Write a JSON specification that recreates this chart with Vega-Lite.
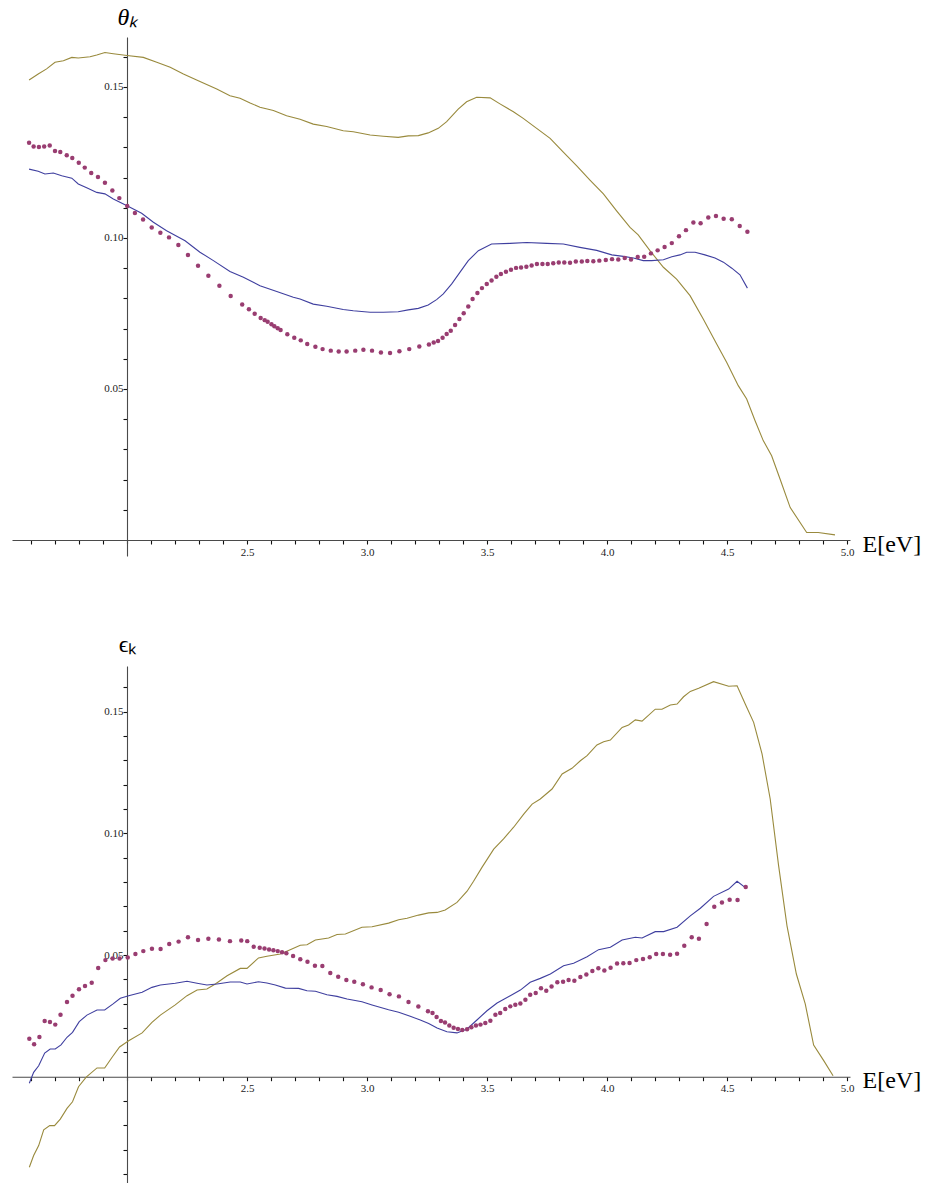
{
"$schema": "https://vega.github.io/schema/vega-lite/v6.json",
"padding": {"left": 12, "top": 5, "right": 5, "bottom": 0},
"bounds": "flush",
"spacing": 110,
"config": {
  "view": {"stroke": null},
  "axis": {"grid": false, "ticks": true, "domainColor": "#4a4a4a", "domainWidth": 1.1, "tickColor": "#111111", "tickWidth": 1.1, "labelFont": "Liberation Serif", "labelFontSize": 11, "labelColor": "#222222", "labelOverlap": false, "labelFlush": false, "titleFont": "Liberation Serif", "titleFontWeight": "normal", "titleColor": "#000000"},
  "line": {"strokeWidth": 1.1},
  "point": {"filled": true, "size": 20, "opacity": 1}
},
"datasets": {
"theta": [
{"s":"s3","E":1.592,"v":0.1523},{"s":"s3","E":1.630,"v":0.1543},{"s":"s3","E":1.665,"v":0.1560},{"s":"s3","E":1.700,"v":0.1582},{"s":"s3","E":1.735,"v":0.1587},{"s":"s3","E":1.770,"v":0.1598},{"s":"s3","E":1.797,"v":0.1596},{"s":"s3","E":1.846,"v":0.1600},{"s":"s3","E":1.874,"v":0.1606},{"s":"s3","E":1.908,"v":0.1614},{"s":"s3","E":1.943,"v":0.1610},{"s":"s3","E":2.000,"v":0.1604},{"s":"s3","E":2.068,"v":0.1598},{"s":"s3","E":2.124,"v":0.1582},{"s":"s3","E":2.180,"v":0.1565},{"s":"s3","E":2.235,"v":0.1543},{"s":"s3","E":2.304,"v":0.1518},{"s":"s3","E":2.374,"v":0.1493},{"s":"s3","E":2.429,"v":0.1471},{"s":"s3","E":2.471,"v":0.1463},{"s":"s3","E":2.513,"v":0.1447},{"s":"s3","E":2.554,"v":0.1433},{"s":"s3","E":2.610,"v":0.1422},{"s":"s3","E":2.665,"v":0.1405},{"s":"s3","E":2.721,"v":0.1393},{"s":"s3","E":2.776,"v":0.1377},{"s":"s3","E":2.832,"v":0.1369},{"s":"s3","E":2.901,"v":0.1355},{"s":"s3","E":2.943,"v":0.1352},{"s":"s3","E":3.013,"v":0.1341},{"s":"s3","E":3.068,"v":0.1337},{"s":"s3","E":3.130,"v":0.1333},{"s":"s3","E":3.172,"v":0.1338},{"s":"s3","E":3.214,"v":0.1339},{"s":"s3","E":3.255,"v":0.1348},{"s":"s3","E":3.297,"v":0.1363},{"s":"s3","E":3.332,"v":0.1385},{"s":"s3","E":3.380,"v":0.1427},{"s":"s3","E":3.415,"v":0.1451},{"s":"s3","E":3.457,"v":0.1466},{"s":"s3","E":3.513,"v":0.1464},{"s":"s3","E":3.554,"v":0.1444},{"s":"s3","E":3.610,"v":0.1418},{"s":"s3","E":3.651,"v":0.1396},{"s":"s3","E":3.707,"v":0.1363},{"s":"s3","E":3.763,"v":0.1330},{"s":"s3","E":3.818,"v":0.1284},{"s":"s3","E":3.874,"v":0.1239},{"s":"s3","E":3.929,"v":0.1192},{"s":"s3","E":3.985,"v":0.1146},{"s":"s3","E":4.040,"v":0.1090},{"s":"s3","E":4.096,"v":0.1035},{"s":"s3","E":4.130,"v":0.1010},{"s":"s3","E":4.179,"v":0.0958},{"s":"s3","E":4.235,"v":0.0903},{"s":"s3","E":4.290,"v":0.0864},{"s":"s3","E":4.346,"v":0.0809},{"s":"s3","E":4.401,"v":0.0732},{"s":"s3","E":4.457,"v":0.0649},{"s":"s3","E":4.499,"v":0.0588},{"s":"s3","E":4.547,"v":0.0511},{"s":"s3","E":4.582,"v":0.0467},{"s":"s3","E":4.617,"v":0.0395},{"s":"s3","E":4.651,"v":0.0329},{"s":"s3","E":4.686,"v":0.0279},{"s":"s3","E":4.721,"v":0.0202},{"s":"s3","E":4.763,"v":0.0108},{"s":"s3","E":4.832,"v":0.0025},{"s":"s3","E":4.880,"v":0.0025},{"s":"s3","E":4.950,"v":0.0017},
{"s":"s1","E":1.592,"v":0.1228},{"s":"s1","E":1.630,"v":0.1221},{"s":"s1","E":1.658,"v":0.1212},{"s":"s1","E":1.693,"v":0.1215},{"s":"s1","E":1.728,"v":0.1206},{"s":"s1","E":1.770,"v":0.1198},{"s":"s1","E":1.797,"v":0.1179},{"s":"s1","E":1.832,"v":0.1166},{"s":"s1","E":1.874,"v":0.1151},{"s":"s1","E":1.908,"v":0.1146},{"s":"s1","E":1.943,"v":0.1129},{"s":"s1","E":2.000,"v":0.1107},{"s":"s1","E":2.061,"v":0.1082},{"s":"s1","E":2.110,"v":0.1052},{"s":"s1","E":2.165,"v":0.1024},{"s":"s1","E":2.242,"v":0.0991},{"s":"s1","E":2.304,"v":0.0953},{"s":"s1","E":2.360,"v":0.0925},{"s":"s1","E":2.429,"v":0.0889},{"s":"s1","E":2.485,"v":0.0870},{"s":"s1","E":2.554,"v":0.0842},{"s":"s1","E":2.624,"v":0.0823},{"s":"s1","E":2.693,"v":0.0804},{"s":"s1","E":2.721,"v":0.0798},{"s":"s1","E":2.776,"v":0.0781},{"s":"s1","E":2.832,"v":0.0774},{"s":"s1","E":2.901,"v":0.0763},{"s":"s1","E":2.943,"v":0.0759},{"s":"s1","E":3.013,"v":0.0754},{"s":"s1","E":3.068,"v":0.0754},{"s":"s1","E":3.130,"v":0.0756},{"s":"s1","E":3.172,"v":0.0762},{"s":"s1","E":3.214,"v":0.0767},{"s":"s1","E":3.255,"v":0.0778},{"s":"s1","E":3.290,"v":0.0796},{"s":"s1","E":3.318,"v":0.0815},{"s":"s1","E":3.353,"v":0.0848},{"s":"s1","E":3.387,"v":0.0886},{"s":"s1","E":3.422,"v":0.0925},{"s":"s1","E":3.464,"v":0.0958},{"s":"s1","E":3.519,"v":0.0980},{"s":"s1","E":3.596,"v":0.0982},{"s":"s1","E":3.665,"v":0.0985},{"s":"s1","E":3.749,"v":0.0982},{"s":"s1","E":3.818,"v":0.0980},{"s":"s1","E":3.887,"v":0.0969},{"s":"s1","E":3.957,"v":0.0959},{"s":"s1","E":4.020,"v":0.0944},{"s":"s1","E":4.068,"v":0.0939},{"s":"s1","E":4.110,"v":0.0934},{"s":"s1","E":4.151,"v":0.0925},{"s":"s1","E":4.186,"v":0.0925},{"s":"s1","E":4.235,"v":0.0928},{"s":"s1","E":4.270,"v":0.0938},{"s":"s1","E":4.304,"v":0.0944},{"s":"s1","E":4.332,"v":0.0953},{"s":"s1","E":4.367,"v":0.0953},{"s":"s1","E":4.408,"v":0.0944},{"s":"s1","E":4.450,"v":0.0934},{"s":"s1","E":4.485,"v":0.0920},{"s":"s1","E":4.520,"v":0.0900},{"s":"s1","E":4.554,"v":0.0878},{"s":"s1","E":4.585,"v":0.0834},
{"s":"s2","E":1.592,"v":0.1315},{"s":"s2","E":1.611,"v":0.1303},{"s":"s2","E":1.633,"v":0.1301},{"s":"s2","E":1.655,"v":0.1303},{"s":"s2","E":1.678,"v":0.1306},{"s":"s2","E":1.700,"v":0.1288},{"s":"s2","E":1.722,"v":0.1285},{"s":"s2","E":1.749,"v":0.1274},{"s":"s2","E":1.772,"v":0.1265},{"s":"s2","E":1.799,"v":0.1249},{"s":"s2","E":1.824,"v":0.1233},{"s":"s2","E":1.851,"v":0.1215},{"s":"s2","E":1.879,"v":0.1202},{"s":"s2","E":1.908,"v":0.1183},{"s":"s2","E":1.939,"v":0.1157},{"s":"s2","E":1.968,"v":0.1132},{"s":"s2","E":2.001,"v":0.1106},{"s":"s2","E":2.033,"v":0.1083},{"s":"s2","E":2.067,"v":0.1061},{"s":"s2","E":2.103,"v":0.1035},{"s":"s2","E":2.139,"v":0.1017},{"s":"s2","E":2.175,"v":0.1002},{"s":"s2","E":2.214,"v":0.0977},{"s":"s2","E":2.254,"v":0.0944},{"s":"s2","E":2.296,"v":0.0908},{"s":"s2","E":2.339,"v":0.0875},{"s":"s2","E":2.385,"v":0.0842},{"s":"s2","E":2.432,"v":0.0808},{"s":"s2","E":2.480,"v":0.0780},{"s":"s2","E":2.508,"v":0.0764},{"s":"s2","E":2.532,"v":0.0749},{"s":"s2","E":2.557,"v":0.0735},{"s":"s2","E":2.574,"v":0.0728},{"s":"s2","E":2.586,"v":0.0723},{"s":"s2","E":2.602,"v":0.0714},{"s":"s2","E":2.614,"v":0.0708},{"s":"s2","E":2.628,"v":0.0701},{"s":"s2","E":2.640,"v":0.0695},{"s":"s2","E":2.668,"v":0.0681},{"s":"s2","E":2.697,"v":0.0670},{"s":"s2","E":2.724,"v":0.0661},{"s":"s2","E":2.751,"v":0.0649},{"s":"s2","E":2.785,"v":0.0640},{"s":"s2","E":2.815,"v":0.0632},{"s":"s2","E":2.849,"v":0.0627},{"s":"s2","E":2.882,"v":0.0624},{"s":"s2","E":2.915,"v":0.0624},{"s":"s2","E":2.951,"v":0.0627},{"s":"s2","E":2.985,"v":0.0630},{"s":"s2","E":3.021,"v":0.0627},{"s":"s2","E":3.058,"v":0.0621},{"s":"s2","E":3.096,"v":0.0619},{"s":"s2","E":3.135,"v":0.0625},{"s":"s2","E":3.176,"v":0.0632},{"s":"s2","E":3.218,"v":0.0641},{"s":"s2","E":3.258,"v":0.0647},{"s":"s2","E":3.278,"v":0.0654},{"s":"s2","E":3.296,"v":0.0659},{"s":"s2","E":3.315,"v":0.0670},{"s":"s2","E":3.332,"v":0.0682},{"s":"s2","E":3.349,"v":0.0693},{"s":"s2","E":3.367,"v":0.0712},{"s":"s2","E":3.385,"v":0.0732},{"s":"s2","E":3.403,"v":0.0751},{"s":"s2","E":3.422,"v":0.0773},{"s":"s2","E":3.440,"v":0.0798},{"s":"s2","E":3.460,"v":0.0818},{"s":"s2","E":3.479,"v":0.0834},{"s":"s2","E":3.499,"v":0.0848},{"s":"s2","E":3.519,"v":0.0859},{"s":"s2","E":3.539,"v":0.0872},{"s":"s2","E":3.558,"v":0.0881},{"s":"s2","E":3.579,"v":0.0888},{"s":"s2","E":3.600,"v":0.0895},{"s":"s2","E":3.621,"v":0.0901},{"s":"s2","E":3.642,"v":0.0902},{"s":"s2","E":3.664,"v":0.0905},{"s":"s2","E":3.686,"v":0.0909},{"s":"s2","E":3.708,"v":0.0914},{"s":"s2","E":3.731,"v":0.0914},{"s":"s2","E":3.753,"v":0.0914},{"s":"s2","E":3.776,"v":0.0916},{"s":"s2","E":3.799,"v":0.0919},{"s":"s2","E":3.822,"v":0.0919},{"s":"s2","E":3.846,"v":0.0918},{"s":"s2","E":3.870,"v":0.0922},{"s":"s2","E":3.895,"v":0.0922},{"s":"s2","E":3.918,"v":0.0924},{"s":"s2","E":3.943,"v":0.0923},{"s":"s2","E":3.968,"v":0.0925},{"s":"s2","E":3.995,"v":0.0927},{"s":"s2","E":4.021,"v":0.0930},{"s":"s2","E":4.047,"v":0.0929},{"s":"s2","E":4.074,"v":0.0934},{"s":"s2","E":4.100,"v":0.0929},{"s":"s2","E":4.128,"v":0.0937},{"s":"s2","E":4.155,"v":0.0938},{"s":"s2","E":4.183,"v":0.0949},{"s":"s2","E":4.211,"v":0.0959},{"s":"s2","E":4.240,"v":0.0970},{"s":"s2","E":4.270,"v":0.0983},{"s":"s2","E":4.300,"v":0.1006},{"s":"s2","E":4.329,"v":0.1026},{"s":"s2","E":4.360,"v":0.1051},{"s":"s2","E":4.390,"v":0.1049},{"s":"s2","E":4.422,"v":0.1068},{"s":"s2","E":4.454,"v":0.1073},{"s":"s2","E":4.486,"v":0.1064},{"s":"s2","E":4.520,"v":0.1062},{"s":"s2","E":4.553,"v":0.1040},{"s":"s2","E":4.585,"v":0.1021}
],
"eps": [
{"s":"s3","E":1.593,"v":-0.0372},{"s":"s3","E":1.611,"v":-0.0324},{"s":"s3","E":1.632,"v":-0.0283},{"s":"s3","E":1.653,"v":-0.0218},{"s":"s3","E":1.678,"v":-0.0201},{"s":"s3","E":1.698,"v":-0.0201},{"s":"s3","E":1.722,"v":-0.0174},{"s":"s3","E":1.750,"v":-0.0130},{"s":"s3","E":1.773,"v":-0.0103},{"s":"s3","E":1.798,"v":-0.0041},{"s":"s3","E":1.830,"v":-0.0002},{"s":"s3","E":1.875,"v":0.0036},{"s":"s3","E":1.907,"v":0.0036},{"s":"s3","E":1.938,"v":0.0080},{"s":"s3","E":1.969,"v":0.0122},{"s":"s3","E":2.007,"v":0.0148},{"s":"s3","E":2.063,"v":0.0180},{"s":"s3","E":2.104,"v":0.0223},{"s":"s3","E":2.139,"v":0.0253},{"s":"s3","E":2.201,"v":0.0295},{"s":"s3","E":2.250,"v":0.0333},{"s":"s3","E":2.292,"v":0.0356},{"s":"s3","E":2.333,"v":0.0360},{"s":"s3","E":2.368,"v":0.0381},{"s":"s3","E":2.417,"v":0.0415},{"s":"s3","E":2.472,"v":0.0445},{"s":"s3","E":2.500,"v":0.0445},{"s":"s3","E":2.548,"v":0.0488},{"s":"s3","E":2.583,"v":0.0495},{"s":"s3","E":2.639,"v":0.0504},{"s":"s3","E":2.680,"v":0.0522},{"s":"s3","E":2.722,"v":0.0540},{"s":"s3","E":2.750,"v":0.0542},{"s":"s3","E":2.785,"v":0.0562},{"s":"s3","E":2.840,"v":0.0570},{"s":"s3","E":2.875,"v":0.0584},{"s":"s3","E":2.910,"v":0.0586},{"s":"s3","E":2.979,"v":0.0614},{"s":"s3","E":3.021,"v":0.0616},{"s":"s3","E":3.090,"v":0.0631},{"s":"s3","E":3.132,"v":0.0645},{"s":"s3","E":3.167,"v":0.0651},{"s":"s3","E":3.215,"v":0.0664},{"s":"s3","E":3.257,"v":0.0673},{"s":"s3","E":3.292,"v":0.0675},{"s":"s3","E":3.326,"v":0.0685},{"s":"s3","E":3.375,"v":0.0716},{"s":"s3","E":3.417,"v":0.0762},{"s":"s3","E":3.444,"v":0.0803},{"s":"s3","E":3.479,"v":0.0860},{"s":"s3","E":3.528,"v":0.0935},{"s":"s3","E":3.569,"v":0.0977},{"s":"s3","E":3.611,"v":0.1025},{"s":"s3","E":3.653,"v":0.1079},{"s":"s3","E":3.688,"v":0.1120},{"s":"s3","E":3.722,"v":0.1141},{"s":"s3","E":3.771,"v":0.1182},{"s":"s3","E":3.813,"v":0.1244},{"s":"s3","E":3.854,"v":0.1267},{"s":"s3","E":3.889,"v":0.1298},{"s":"s3","E":3.917,"v":0.1319},{"s":"s3","E":3.958,"v":0.1363},{"s":"s3","E":3.986,"v":0.1376},{"s":"s3","E":4.014,"v":0.1383},{"s":"s3","E":4.063,"v":0.1435},{"s":"s3","E":4.090,"v":0.1445},{"s":"s3","E":4.118,"v":0.1466},{"s":"s3","E":4.146,"v":0.1461},{"s":"s3","E":4.201,"v":0.1510},{"s":"s3","E":4.229,"v":0.1510},{"s":"s3","E":4.264,"v":0.1527},{"s":"s3","E":4.292,"v":0.1531},{"s":"s3","E":4.319,"v":0.1561},{"s":"s3","E":4.347,"v":0.1583},{"s":"s3","E":4.382,"v":0.1596},{"s":"s3","E":4.444,"v":0.1623},{"s":"s3","E":4.507,"v":0.1604},{"s":"s3","E":4.542,"v":0.1606},{"s":"s3","E":4.576,"v":0.1531},{"s":"s3","E":4.611,"v":0.1456},{"s":"s3","E":4.646,"v":0.1326},{"s":"s3","E":4.680,"v":0.1141},{"s":"s3","E":4.715,"v":0.0867},{"s":"s3","E":4.750,"v":0.0620},{"s":"s3","E":4.789,"v":0.0422},{"s":"s3","E":4.826,"v":0.0299},{"s":"s3","E":4.861,"v":0.0130},{"s":"s3","E":4.903,"v":0.0066},{"s":"s3","E":4.942,"v":0.0004},
{"s":"s1","E":1.593,"v":-0.0027},{"s":"s1","E":1.611,"v":0.0018},{"s":"s1","E":1.632,"v":0.0045},{"s":"s1","E":1.657,"v":0.0097},{"s":"s1","E":1.680,"v":0.0114},{"s":"s1","E":1.701,"v":0.0114},{"s":"s1","E":1.725,"v":0.0131},{"s":"s1","E":1.750,"v":0.0162},{"s":"s1","E":1.773,"v":0.0182},{"s":"s1","E":1.801,"v":0.0226},{"s":"s1","E":1.833,"v":0.0253},{"s":"s1","E":1.875,"v":0.0274},{"s":"s1","E":1.907,"v":0.0274},{"s":"s1","E":1.942,"v":0.0299},{"s":"s1","E":1.972,"v":0.0322},{"s":"s1","E":2.007,"v":0.0333},{"s":"s1","E":2.063,"v":0.0347},{"s":"s1","E":2.104,"v":0.0367},{"s":"s1","E":2.139,"v":0.0377},{"s":"s1","E":2.201,"v":0.0384},{"s":"s1","E":2.250,"v":0.0392},{"s":"s1","E":2.292,"v":0.0384},{"s":"s1","E":2.333,"v":0.0377},{"s":"s1","E":2.375,"v":0.0381},{"s":"s1","E":2.430,"v":0.0389},{"s":"s1","E":2.472,"v":0.0389},{"s":"s1","E":2.500,"v":0.0381},{"s":"s1","E":2.548,"v":0.0390},{"s":"s1","E":2.583,"v":0.0385},{"s":"s1","E":2.618,"v":0.0377},{"s":"s1","E":2.660,"v":0.0364},{"s":"s1","E":2.715,"v":0.0363},{"s":"s1","E":2.750,"v":0.0353},{"s":"s1","E":2.785,"v":0.0351},{"s":"s1","E":2.833,"v":0.0337},{"s":"s1","E":2.875,"v":0.0330},{"s":"s1","E":2.917,"v":0.0319},{"s":"s1","E":2.979,"v":0.0308},{"s":"s1","E":3.021,"v":0.0295},{"s":"s1","E":3.090,"v":0.0275},{"s":"s1","E":3.132,"v":0.0265},{"s":"s1","E":3.180,"v":0.0248},{"s":"s1","E":3.222,"v":0.0233},{"s":"s1","E":3.257,"v":0.0219},{"s":"s1","E":3.292,"v":0.0200},{"s":"s1","E":3.333,"v":0.0185},{"s":"s1","E":3.375,"v":0.0180},{"s":"s1","E":3.417,"v":0.0196},{"s":"s1","E":3.458,"v":0.0233},{"s":"s1","E":3.500,"v":0.0271},{"s":"s1","E":3.542,"v":0.0303},{"s":"s1","E":3.597,"v":0.0333},{"s":"s1","E":3.639,"v":0.0356},{"s":"s1","E":3.680,"v":0.0388},{"s":"s1","E":3.722,"v":0.0404},{"s":"s1","E":3.764,"v":0.0422},{"s":"s1","E":3.819,"v":0.0456},{"s":"s1","E":3.861,"v":0.0466},{"s":"s1","E":3.917,"v":0.0493},{"s":"s1","E":3.965,"v":0.0522},{"s":"s1","E":4.014,"v":0.0532},{"s":"s1","E":4.063,"v":0.0562},{"s":"s1","E":4.118,"v":0.0573},{"s":"s1","E":4.146,"v":0.0570},{"s":"s1","E":4.201,"v":0.0596},{"s":"s1","E":4.236,"v":0.0596},{"s":"s1","E":4.292,"v":0.0614},{"s":"s1","E":4.347,"v":0.0661},{"s":"s1","E":4.389,"v":0.0692},{"s":"s1","E":4.444,"v":0.0741},{"s":"s1","E":4.507,"v":0.0771},{"s":"s1","E":4.542,"v":0.0803},{"s":"s1","E":4.579,"v":0.0775},
{"s":"s2","E":1.593,"v":0.0156},{"s":"s2","E":1.613,"v":0.0133},{"s":"s2","E":1.635,"v":0.0163},{"s":"s2","E":1.657,"v":0.0229},{"s":"s2","E":1.679,"v":0.0225},{"s":"s2","E":1.701,"v":0.0214},{"s":"s2","E":1.723,"v":0.0255},{"s":"s2","E":1.750,"v":0.0307},{"s":"s2","E":1.773,"v":0.0333},{"s":"s2","E":1.800,"v":0.0359},{"s":"s2","E":1.825,"v":0.0373},{"s":"s2","E":1.853,"v":0.0386},{"s":"s2","E":1.880,"v":0.0447},{"s":"s2","E":1.910,"v":0.0479},{"s":"s2","E":1.940,"v":0.0486},{"s":"s2","E":1.969,"v":0.0486},{"s":"s2","E":2.003,"v":0.0490},{"s":"s2","E":2.035,"v":0.0504},{"s":"s2","E":2.068,"v":0.0516},{"s":"s2","E":2.104,"v":0.0526},{"s":"s2","E":2.140,"v":0.0525},{"s":"s2","E":2.176,"v":0.0545},{"s":"s2","E":2.215,"v":0.0555},{"s":"s2","E":2.254,"v":0.0573},{"s":"s2","E":2.296,"v":0.0562},{"s":"s2","E":2.339,"v":0.0567},{"s":"s2","E":2.383,"v":0.0564},{"s":"s2","E":2.429,"v":0.0557},{"s":"s2","E":2.476,"v":0.0560},{"s":"s2","E":2.501,"v":0.0557},{"s":"s2","E":2.528,"v":0.0534},{"s":"s2","E":2.553,"v":0.0530},{"s":"s2","E":2.573,"v":0.0527},{"s":"s2","E":2.592,"v":0.0523},{"s":"s2","E":2.610,"v":0.0520},{"s":"s2","E":2.628,"v":0.0516},{"s":"s2","E":2.646,"v":0.0511},{"s":"s2","E":2.664,"v":0.0507},{"s":"s2","E":2.692,"v":0.0496},{"s":"s2","E":2.722,"v":0.0483},{"s":"s2","E":2.752,"v":0.0472},{"s":"s2","E":2.783,"v":0.0456},{"s":"s2","E":2.814,"v":0.0455},{"s":"s2","E":2.847,"v":0.0426},{"s":"s2","E":2.880,"v":0.0411},{"s":"s2","E":2.914,"v":0.0397},{"s":"s2","E":2.947,"v":0.0390},{"s":"s2","E":2.983,"v":0.0380},{"s":"s2","E":3.019,"v":0.0367},{"s":"s2","E":3.057,"v":0.0356},{"s":"s2","E":3.094,"v":0.0339},{"s":"s2","E":3.133,"v":0.0330},{"s":"s2","E":3.173,"v":0.0307},{"s":"s2","E":3.214,"v":0.0288},{"s":"s2","E":3.254,"v":0.0269},{"s":"s2","E":3.273,"v":0.0262},{"s":"s2","E":3.290,"v":0.0245},{"s":"s2","E":3.308,"v":0.0229},{"s":"s2","E":3.325,"v":0.0223},{"s":"s2","E":3.343,"v":0.0210},{"s":"s2","E":3.361,"v":0.0201},{"s":"s2","E":3.379,"v":0.0196},{"s":"s2","E":3.397,"v":0.0192},{"s":"s2","E":3.417,"v":0.0195},{"s":"s2","E":3.435,"v":0.0203},{"s":"s2","E":3.454,"v":0.0210},{"s":"s2","E":3.473,"v":0.0214},{"s":"s2","E":3.493,"v":0.0221},{"s":"s2","E":3.514,"v":0.0230},{"s":"s2","E":3.535,"v":0.0255},{"s":"s2","E":3.555,"v":0.0262},{"s":"s2","E":3.576,"v":0.0278},{"s":"s2","E":3.597,"v":0.0289},{"s":"s2","E":3.618,"v":0.0296},{"s":"s2","E":3.639,"v":0.0301},{"s":"s2","E":3.660,"v":0.0316},{"s":"s2","E":3.680,"v":0.0337},{"s":"s2","E":3.703,"v":0.0344},{"s":"s2","E":3.725,"v":0.0363},{"s":"s2","E":3.747,"v":0.0353},{"s":"s2","E":3.769,"v":0.0371},{"s":"s2","E":3.793,"v":0.0388},{"s":"s2","E":3.817,"v":0.0390},{"s":"s2","E":3.840,"v":0.0397},{"s":"s2","E":3.864,"v":0.0394},{"s":"s2","E":3.889,"v":0.0410},{"s":"s2","E":3.914,"v":0.0420},{"s":"s2","E":3.939,"v":0.0434},{"s":"s2","E":3.964,"v":0.0446},{"s":"s2","E":3.989,"v":0.0436},{"s":"s2","E":4.015,"v":0.0448},{"s":"s2","E":4.042,"v":0.0465},{"s":"s2","E":4.068,"v":0.0466},{"s":"s2","E":4.094,"v":0.0467},{"s":"s2","E":4.122,"v":0.0479},{"s":"s2","E":4.150,"v":0.0484},{"s":"s2","E":4.178,"v":0.0491},{"s":"s2","E":4.205,"v":0.0504},{"s":"s2","E":4.233,"v":0.0504},{"s":"s2","E":4.263,"v":0.0501},{"s":"s2","E":4.292,"v":0.0505},{"s":"s2","E":4.322,"v":0.0538},{"s":"s2","E":4.353,"v":0.0573},{"s":"s2","E":4.383,"v":0.0567},{"s":"s2","E":4.415,"v":0.0627},{"s":"s2","E":4.447,"v":0.0698},{"s":"s2","E":4.479,"v":0.0716},{"s":"s2","E":4.511,"v":0.0727},{"s":"s2","E":4.544,"v":0.0726},{"s":"s2","E":4.578,"v":0.0779}
]
},
"vconcat": [
{
  "width": 838, "height": 519,
  "data": {"name": "theta"},
  "encoding": {
    "x": {"field": "E", "type": "quantitative", "scale": {"domain": [1.52083, 5.0125], "nice": false, "zero": false},
      "axis": {"orient": "bottom", "offset": -16, "values": [1.6,1.7,1.8,1.9,2.0,2.1,2.2,2.3,2.4,2.5,2.6,2.7,2.8,2.9,3.0,3.1,3.2,3.3,3.4,3.5,3.6,3.7,3.8,3.9,4.0,4.1,4.2,4.3,4.4,4.5,4.6,4.7,4.8,4.9,5.0],
        "labelExpr": "(abs(datum.value*2 - round(datum.value*2)) < 0.01 && datum.value > 2.01) ? format(datum.value, '.1f') : ''",
        "tickSize": 4,
        "labelPadding": 2,
        "title": "E[eV]", "titleFontSize": 24, "titleAngle": 0, "titleAlign": "left", "titleBaseline": "alphabetic", "titleX": 850, "titleY": 11}},
    "y": {"field": "v", "type": "quantitative", "scale": {"domain": [-0.0053, 0.16655], "nice": false, "zero": false},
      "axis": {"orient": "left", "offset": -115, "values": [0.01,0.02,0.03,0.04,0.05,0.06,0.07,0.08,0.09,0.1,0.11,0.12,0.13,0.14,0.15,0.16],
        "labelExpr": "(abs(datum.value*20 - round(datum.value*20)) < 0.001 && datum.value > 0.001) ? format(datum.value, '.2f') : ''",
        "tickSize": 4,
        "labelPadding": 0,
        "title": "θₖ", "titleFontSize": 24, "titleFontStyle": "italic", "titleAngle": 0, "titleAlign": "center", "titleBaseline": "alphabetic", "titleX": 0, "titleY": -13}},
    "color": {"field": "s", "type": "nominal", "scale": {"domain": ["s1", "s2", "s3"], "range": ["#3f3f9f", "#993d71", "#998a3d"]}, "legend": null}
  },
  "layer": [
    {"transform": [{"filter": "datum.s != 's2'"}], "mark": {"type": "line"}},
    {"transform": [{"filter": "datum.s == 's2'"}], "mark": {"type": "point", "filled": true}}
  ]
},
{
  "width": 838, "height": 517,
  "data": {"name": "eps"},
  "encoding": {
    "x": {"field": "E", "type": "quantitative", "scale": {"domain": [1.52083, 5.0125], "nice": false, "zero": false},
      "axis": {"orient": "bottom", "offset": -106.3, "values": [1.6,1.7,1.8,1.9,2.0,2.1,2.2,2.3,2.4,2.5,2.6,2.7,2.8,2.9,3.0,3.1,3.2,3.3,3.4,3.5,3.6,3.7,3.8,3.9,4.0,4.1,4.2,4.3,4.4,4.5,4.6,4.7,4.8,4.9,5.0],
        "labelExpr": "(abs(datum.value*2 - round(datum.value*2)) < 0.01 && datum.value > 2.01) ? format(datum.value, '.1f') : ''",
        "tickSize": 4,
        "labelPadding": 2,
        "title": "E[eV]", "titleFontSize": 24, "titleAngle": 0, "titleAlign": "left", "titleBaseline": "alphabetic", "titleX": 850, "titleY": 11}},
    "y": {"field": "v", "type": "quantitative", "scale": {"domain": [-0.04367, 0.16874], "nice": false, "zero": false},
      "axis": {"orient": "left", "offset": -115, "values": [-0.04,-0.03,-0.02,-0.01,0.01,0.02,0.03,0.04,0.05,0.06,0.07,0.08,0.09,0.1,0.11,0.12,0.13,0.14,0.15,0.16],
        "labelExpr": "(abs(datum.value*20 - round(datum.value*20)) < 0.001 && datum.value > 0.001) ? format(datum.value, '.2f') : ''",
        "tickSize": 4,
        "labelPadding": 0,
        "title": "ϵₖ", "titleFontSize": 24, "titleAngle": 0, "titleAlign": "center", "titleBaseline": "alphabetic", "titleX": 0, "titleY": -15}},
    "color": {"field": "s", "type": "nominal", "scale": {"domain": ["s1", "s2", "s3"], "range": ["#3f3f9f", "#993d71", "#998a3d"]}, "legend": null}
  },
  "layer": [
    {"transform": [{"filter": "datum.s != 's2'"}], "mark": {"type": "line"}},
    {"transform": [{"filter": "datum.s == 's2'"}], "mark": {"type": "point", "filled": true}}
  ]
}
]
}
